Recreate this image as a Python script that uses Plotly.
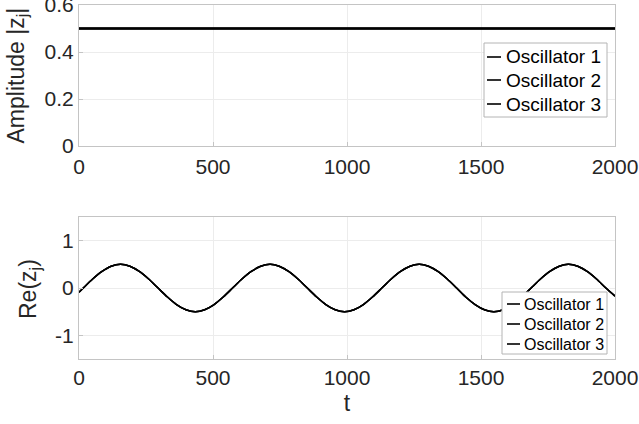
import plotly.graph_objects as go
from plotly.subplots import make_subplots

# ---- data ----
t_amp = [0, 2000]
amp_osc1 = [0.5, 0.5]
amp_osc2 = [0.5, 0.5]
amp_osc3 = [0.5, 0.5]

t_re = [0, 16, 51, 86, 120, 155, 190, 225, 260, 295, 330, 364, 399, 434, 469, 504,
        538, 573, 608, 643, 678, 713, 747, 782, 817, 852, 887, 921, 956, 991, 1026,
        1061, 1095, 1130, 1165, 1200, 1235, 1269, 1304, 1339, 1374, 1409, 1443, 1478,
        1513, 1548, 1583, 1617, 1652, 1687, 1722, 1757, 1792, 1826, 1861, 1896, 1931,
        1966, 2000]
re_osc1 = [-0.09, 0.0, 0.19, 0.35, 0.46, 0.5, 0.46, 0.35, 0.19, 0.0, -0.19, -0.35,
           -0.46, -0.5, -0.46, -0.35, -0.19, 0.0, 0.19, 0.35, 0.46, 0.5, 0.46, 0.35,
           0.19, 0.0, -0.19, -0.35, -0.46, -0.5, -0.46, -0.35, -0.19, 0.0, 0.19, 0.35,
           0.46, 0.5, 0.46, 0.35, 0.19, 0.0, -0.19, -0.35, -0.46, -0.5, -0.46, -0.35,
           -0.19, 0.0, 0.19, 0.35, 0.46, 0.5, 0.46, 0.35, 0.19, 0.0, -0.17]
re_osc2 = list(re_osc1)
re_osc3 = list(re_osc1)

names = ["Oscillator 1", "Oscillator 2", "Oscillator 3"]
x_ticks = [0, 500, 1000, 1500, 2000]
amp_ticks = [0, 0.2, 0.4, 0.6]
re_ticks = [-1, 0, 1]
amp_title = "Amplitude |z<sub>j</sub>|"
re_title = "Re(z<sub>j</sub>)"
t_title = "t"

FONT = "Liberation Sans, Arial, Helvetica, sans-serif"
TXT = "#262626"
GRID = "#ececec"
BOX = "#c4c4c4"
LEG_BORDER = "#b4b4b4"

W, H = 639, 424
ML, MR, MT, MB = 79, 24, 5, 65

fig = make_subplots(rows=2, cols=1, vertical_spacing=0.0)

for nm, ys in zip(names, [amp_osc1, amp_osc2, amp_osc3]):
    fig.add_trace(go.Scatter(x=t_amp, y=ys, mode="lines", name=nm, showlegend=False,
                             line=dict(color="black", width=1.8)), row=1, col=1)
for nm, ys in zip(names, [re_osc1, re_osc2, re_osc3]):
    fig.add_trace(go.Scatter(x=t_re, y=ys, mode="lines", name=nm, showlegend=False,
                             line=dict(color="black", width=1.5, shape="spline", smoothing=0.8)),
                  row=2, col=1)

axis_common = dict(showline=True, linecolor=BOX, linewidth=1, mirror=True,
                   showgrid=True, gridcolor=GRID, gridwidth=1, zeroline=False,
                   ticks="inside", ticklen=4, tickcolor=BOX,
                   ticklabeloverflow="allow",
                   tickfont=dict(family=FONT, size=21, color=TXT))

fig.update_xaxes(range=[0, 2000], tickvals=x_ticks, **axis_common)
fig.update_yaxes(**axis_common)

top_dom = [0.6017, 1.0]
bot_dom = [0.0, 0.401]

fig.update_layout(
    xaxis=dict(ticklabelstandoff=2),
    yaxis=dict(domain=top_dom, range=[0, 0.6], tickvals=amp_ticks,
               ticktext=["0", "0.2", "0.4", "0.6"]),
    xaxis2=dict(ticklabelstandoff=0,
                title=dict(text=t_title, font=dict(family=FONT, size=23, color=TXT), standoff=6)),
    yaxis2=dict(domain=bot_dom, range=[-1.5, 1.5], tickvals=re_ticks,
                ticktext=["-1", "0", "1"]),
    width=W, height=H,
    margin=dict(l=ML, r=MR, t=MT, b=MB, autoexpand=False),
    paper_bgcolor="white", plot_bgcolor="white",
    font=dict(family=FONT, color=TXT),
    showlegend=False,
)

plot_w = W - ML - MR
plot_h = H - MT - MB


def px_x(px):
    return (px - ML) / plot_w


def px_y(py):
    return (H - MB - py) / plot_h


# ---- y-axis titles (rotated) ----
fig.add_annotation(xref="paper", yref="paper", x=px_x(17), y=px_y(75.5),
                   text=amp_title, textangle=-90, showarrow=False,
                   xanchor="center", yanchor="middle",
                   font=dict(family=FONT, size=23, color=TXT))
fig.add_annotation(xref="paper", yref="paper", x=px_x(29), y=px_y(289),
                   text=re_title, textangle=-90, showarrow=False,
                   xanchor="center", yanchor="middle",
                   font=dict(family=FONT, size=23, color=TXT))

# ---- MATLAB-style legend boxes (short swatches), built from the names list ----
legend_specs = [
    dict(box=(484, 607, 43, 117), sw=(487, 501), tx=504, rows=(57, 80, 104), fs=19),
    dict(box=(502, 607, 292, 354), sw=(507, 520), tx=522, rows=(304, 324, 344), fs=16),
]
for spec in legend_specs:
    bx0, bx1, by0, by1 = spec["box"]
    fig.add_shape(type="rect", xref="paper", yref="paper",
                  x0=px_x(bx0), x1=px_x(bx1), y0=px_y(by1), y1=px_y(by0),
                  fillcolor="white", line=dict(color=LEG_BORDER, width=1), layer="above")
    for nm, ry in zip(names, spec["rows"]):
        fig.add_shape(type="line", xref="paper", yref="paper",
                      x0=px_x(spec["sw"][0]), x1=px_x(spec["sw"][1]),
                      y0=px_y(ry), y1=px_y(ry),
                      line=dict(color="black", width=1.6), layer="above")
        fig.add_annotation(xref="paper", yref="paper", x=px_x(spec["tx"]), y=px_y(ry),
                           text=nm, showarrow=False, xanchor="left", yanchor="middle",
                           font=dict(family=FONT, size=spec["fs"], color="black"))

fig.write_html("out.html")
